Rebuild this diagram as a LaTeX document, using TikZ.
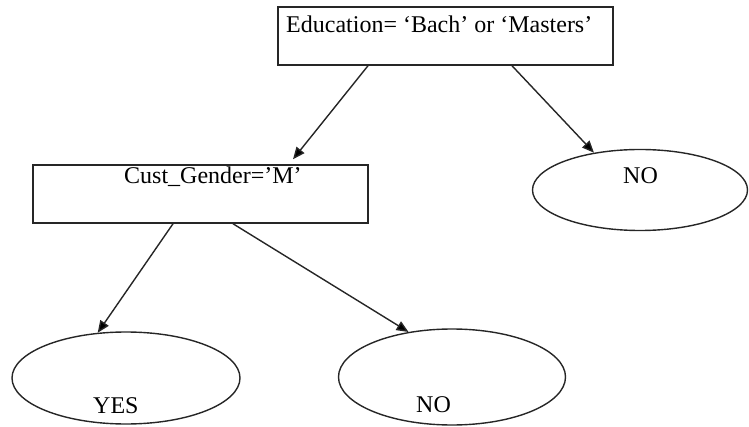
\documentclass[tikz,border=0pt]{standalone}
\usepackage{fontspec}
\setmainfont{Liberation Serif}
\usetikzlibrary{shapes.geometric}
\usetikzlibrary{arrows.meta}

\begin{document}
\begin{tikzpicture}[
                x=1pt, y=-1pt,
                testbox/.style={draw=black!85, line width=1.5pt, rectangle,
                    minimum width=335pt, minimum height=58pt, inner sep=0pt},
                leafnode/.style={draw=black!85, line width=1.4pt, ellipse, inner sep=0pt},
                labeltext/.style={anchor=base west, inner sep=0pt,
                    font=\fontsize{24}{28}\selectfont},
                branch/.style={draw=black!85, line width=1.4pt,
                    -{Triangle[length=12pt, width=10pt, fill=black]}} ]

            \useasboundingbox (0,0) rectangle (749,427);

            % decision boxes
            \node[testbox] (edu) at (445.5,36) {};
            \node[testbox] (cust) at (200.5,194) {};

            % leaves
            \node[leafnode, minimum width=215pt, minimum height=81pt] (noright) at (640,190) {};
            \node[leafnode, minimum width=228pt, minimum height=92pt] (yes) at (126,378) {};
            \node[leafnode, minimum width=227pt, minimum height=96pt] (noleft) at (452,377) {};

            % texts
            \node[labeltext] (edutext) at (286,33) {Education= ‘Bach’ or ‘Masters’};
            \node[labeltext] (custtext) at (124,184) {Cust\_Gender=’M’};
            \node[labeltext] (norighttext) at (623,184) {NO};
            \node[labeltext] (yestext) at (93,413) {YES};
            \node[labeltext] (nolefttext) at (416,412) {NO};

            % branches
            \draw[branch] ([xshift=-77.5pt]edu.south) -- ([xshift=92.5pt, yshift=5pt]cust.north);
            \draw[branch] ([xshift=66.5pt]edu.south) -- (noright.141);
            \draw[branch] ([xshift=-27.5pt]cust.south) -- (yes.122);
            \draw[branch] ([xshift=32.5pt]cust.south) -- (noleft.134);
        \end{tikzpicture}
\end{document}
